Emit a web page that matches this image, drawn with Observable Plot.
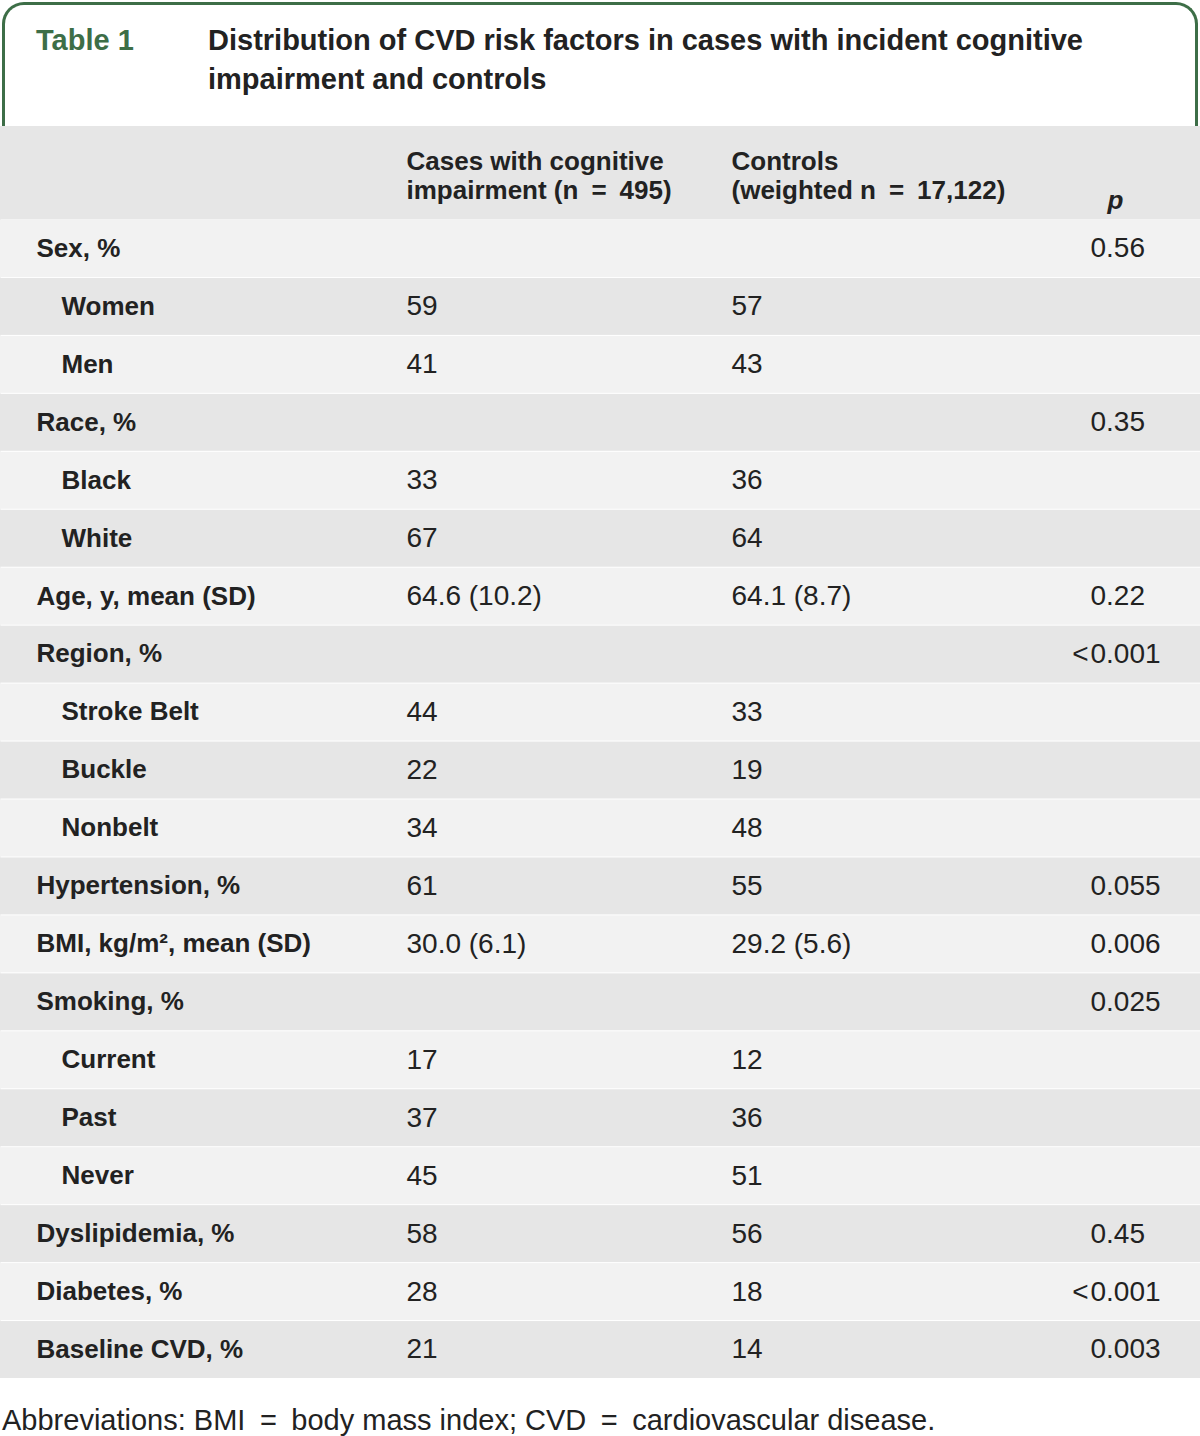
<!DOCTYPE html>
<html>
<head>
<meta charset="utf-8">
<script src="https://cdn.jsdelivr.net/npm/d3@7"></script>
<script src="https://cdn.jsdelivr.net/npm/@observablehq/plot@0.6"></script>
<style>
  body { margin: 0; background: #fff; font-family: "Liberation Sans", Arial, sans-serif; color: #222; }
  #title { position: relative; width: 1200px; height: 126px; }
  #box { position: absolute; left: 2px; top: 2px; width: 1196px; height: 124px; border: 3px solid #3d6e47; border-bottom: none; border-radius: 22px 22px 0 0; box-sizing: border-box; }
  #tnum { position: absolute; left: 36px; top: 21px; font-size: 29px; font-weight: bold; line-height: 39px; color: #3d6e47; }
  #ttext { position: absolute; left: 208px; top: 21px; width: 940px; font-size: 29px; font-weight: bold; line-height: 39px; color: #222; }
  #chart svg { display: block; }
  #caption { width: 1200px; height: 58px; box-sizing: border-box; padding: 22px 0 0 2px; font-size: 29px; line-height: 40px; color: #222; white-space: nowrap; }
</style>
</head>
<body>
<div id="title">
  <div id="box"></div>
  <div id="tnum">Table 1</div>
  <div id="ttext">Distribution of CVD risk factors in cases with incident cognitive impairment and controls</div>
</div>
<div id="chart"></div>
<div id="caption">Abbreviations: BMI&#8194;=&#8194;body mass index; CVD&#8194;=&#8194;cardiovascular disease.</div>
<script>
// ---- data ----
const columnHeaders = ["Cases with cognitive\nimpairment (n\u2002=\u2002495)", "Controls\n(weighted n\u2002=\u200217,122)", "p"];
const labels = ["Sex, %", "Women", "Men", "Race, %", "Black", "White", "Age, y, mean (SD)", "Region, %",
  "Stroke Belt", "Buckle", "Nonbelt", "Hypertension, %", "BMI, kg/m², mean (SD)", "Smoking, %",
  "Current", "Past", "Never", "Dyslipidemia, %", "Diabetes, %", "Baseline CVD, %"];
const subRow = [false, true, true, false, true, true, false, false, true, true, true, false, false, false,
  true, true, true, false, false, false];
const cases = ["", "59", "41", "", "33", "67", "64.6 (10.2)", "", "44", "22", "34", "61", "30.0 (6.1)", "",
  "17", "37", "45", "58", "28", "21"];
const controls = ["", "57", "43", "", "36", "64", "64.1 (8.7)", "", "33", "19", "48", "55", "29.2 (5.6)", "",
  "12", "36", "51", "56", "18", "14"];
const pValues = ["0.56", "", "", "0.35", "", "", "0.22", "<0.001", "", "", "", "0.055", "0.006", "0.025",
  "", "", "", "0.45", "<0.001", "0.003"];

const rows = labels.map((label, i) => ({
  key: i,
  label,
  sub: subRow[i],
  shade: i % 2 === 0 ? "light" : "dark",
  cases: cases[i],
  controls: controls[i],
  pPrefix: pValues[i].startsWith("<") ? "<" : "",
  pNum: pValues[i].replace("<", "")
}));

const ink = "#222";
const headerTop = 93;

const chart = Plot.plot({
  width: 1200,
  height: 1252,
  marginTop: headerTop,
  marginBottom: 0,
  marginLeft: 0,
  marginRight: 0,
  style: { background: "#e6e6e6", fontFamily: "'Liberation Sans', Arial, sans-serif" },
  y: { type: "band", domain: rows.map(d => d.key), paddingInner: 0, paddingOuter: 0, round: false, axis: null },
  color: { domain: ["light", "dark"], range: ["#f2f2f2", "#e6e6e6"] },
  marks: [
    Plot.frame({ fill: "#ffffff", stroke: null }),
    Plot.cell(rows, { y: "key", fill: "shade", insetTop: 1 }),
    // header
    Plot.text([columnHeaders[0]], { frameAnchor: "top-left", dx: 406, dy: -44, text: d => d, textAnchor: "start",
      lineAnchor: "middle", fontSize: 26, fontWeight: "bold", lineHeight: 1.12, fill: ink }),
    Plot.text([columnHeaders[1]], { frameAnchor: "top-left", dx: 731, dy: -44, text: d => d, textAnchor: "start",
      lineAnchor: "middle", fontSize: 26, fontWeight: "bold", lineHeight: 1.12, fill: ink }),
    Plot.text([columnHeaders[2]], { frameAnchor: "top-left", dx: 1115, dy: -29, text: d => d, textAnchor: "middle",
      fontSize: 26, fontWeight: "bold", fontStyle: "italic", fill: ink }),
    // row labels
    Plot.text(rows.filter(d => !d.sub), { y: "key", text: "label", frameAnchor: "left", dx: 36, textAnchor: "start",
      fontSize: 26, fontWeight: "bold", fill: ink }),
    Plot.text(rows.filter(d => d.sub), { y: "key", text: "label", frameAnchor: "left", dx: 61, textAnchor: "start",
      fontSize: 26, fontWeight: "bold", fill: ink }),
    // values
    Plot.text(rows, { y: "key", text: "cases", frameAnchor: "left", dx: 406, textAnchor: "start", fontSize: 28, fill: ink }),
    Plot.text(rows, { y: "key", text: "controls", frameAnchor: "left", dx: 731, textAnchor: "start", fontSize: 28, fill: ink }),
    Plot.text(rows, { y: "key", text: "pNum", frameAnchor: "left", dx: 1090, textAnchor: "start", fontSize: 28, fill: ink }),
    Plot.text(rows, { y: "key", text: "pPrefix", frameAnchor: "left", dx: 1088, textAnchor: "end", fontSize: 28, fill: ink })
  ]
});
document.getElementById("chart").appendChild(chart);
</script>
</body>
</html>
